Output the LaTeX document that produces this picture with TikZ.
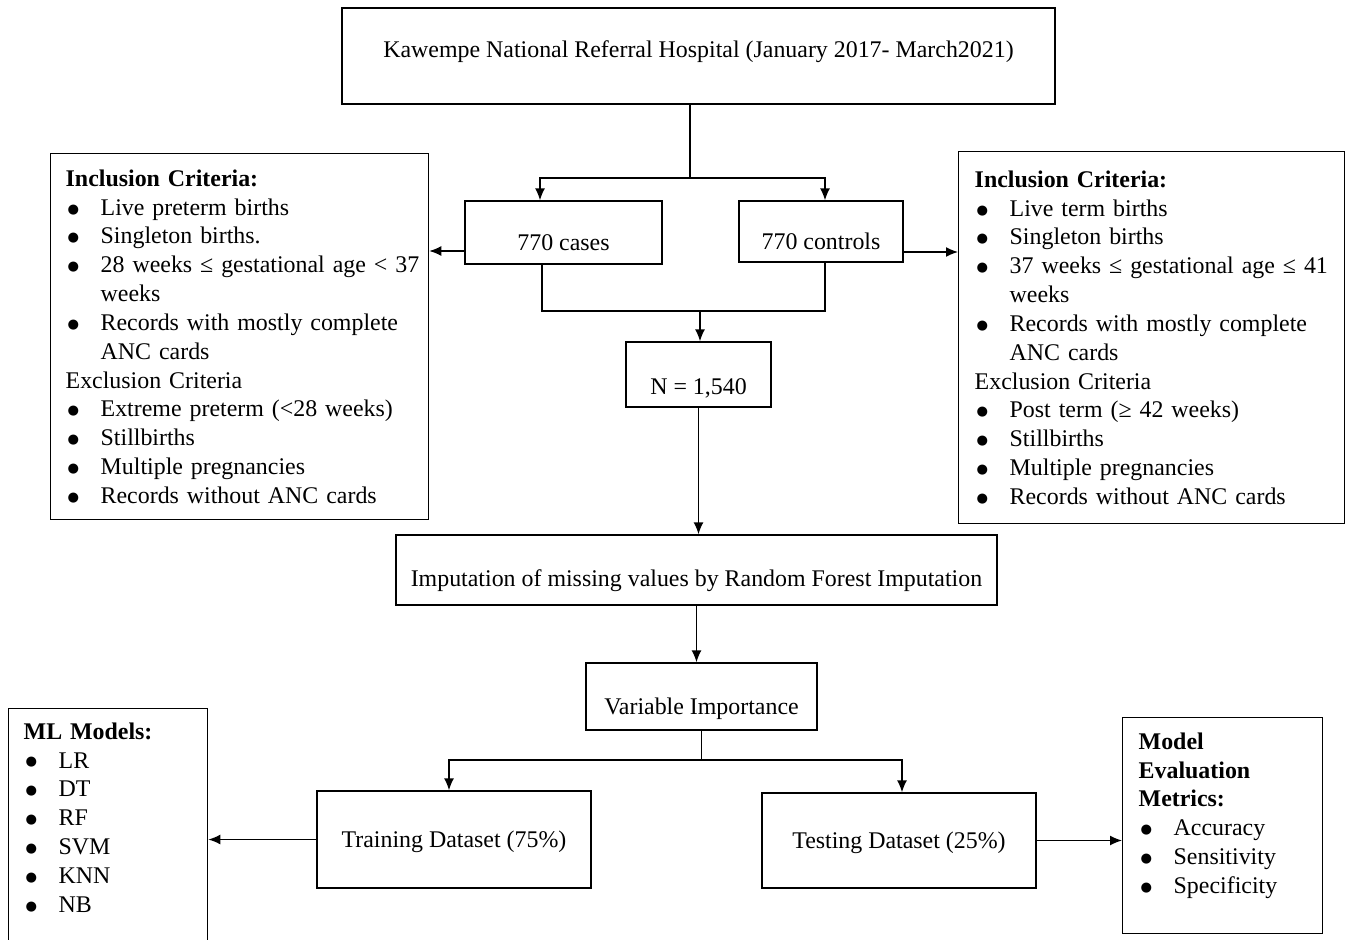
\documentclass[tikz,border=0pt]{standalone}
\usepackage{fontspec}
\setmainfont{Liberation Serif}
\newfontfamily\dotfont{DejaVu Sans}
\usetikzlibrary{arrows.meta,positioning,calc}
\newcommand{\mainsize}{\fontsize{13.6pt}{16.4pt}\selectfont}
\newcommand{\crhead}[1]{\par\noindent #1}
\newcommand{\critem}[1]{\par\noindent\hangindent=0.7cm\hangafter=1%
  \makebox[0.7cm][l]{\hspace{0.04cm}\raisebox{1.2pt}{\dotfont\fontsize{7.5pt}{8pt}\selectfont ●}}#1}

\begin{document}
\begin{tikzpicture}[x=0.02cm,y=-0.02cm,line width=0.8pt]
    \tikzset{flowbox/.style={draw,align=center,inner sep=0pt,font=\mainsize,
      text height=21pt,text depth=0pt},
      listbox/.style={draw,align=left,anchor=north west,font=\mainsize,inner ysep=0.2cm},
      flow/.style={-{Latex[length=2.4mm,width=2mm]}}}
    \useasboundingbox (0,0) rectangle (1346,940);
    \node[flowbox,minimum width=14.26cm,minimum height=1.92cm,text height=9pt,text depth=6.8pt] (hosp) at (698.5,56)
      {Kawempe National Referral Hospital (January 2017- March2021)};
    \node[flowbox,minimum width=3.94cm,minimum height=1.26cm] (cases) at (563.5,232.5) {770 cases};
    \node[flowbox,minimum width=3.28cm,minimum height=1.22cm] (controls) at (821,231.5) {770 controls};
    \node[flowbox,minimum width=2.9cm,minimum height=1.3cm,text height=23pt] (total) at (698.5,374.5) {N = 1,540};
    \node[flowbox,minimum width=12.02cm,minimum height=1.4cm,text height=19pt] (imput) at (696.5,570)
      {Imputation of missing values by Random Forest Imputation};
    \node[flowbox,minimum width=4.62cm,minimum height=1.34cm] (varimp) at (701.5,696.5) {Variable Importance};
    \node[flowbox,minimum width=5.48cm,minimum height=1.94cm,text height=9pt] (train) at (454,839.5) {Training Dataset (75\%)};
    \node[flowbox,minimum width=5.48cm,minimum height=1.9cm,text height=9pt] (test) at (899,840.5) {Testing Dataset (25\%)};
    \node[listbox,text width=6.96cm,inner xsep=0.3cm,minimum height=7.32cm] (inclcases) at (50,153)
      {\textbf{Inclusion Criteria:}
       \critem{Live preterm births}
       \critem{Singleton births.}
       \critem{\mbox{28 weeks ≤ gestational age < 37}\newline weeks}
       \critem{Records with mostly complete\newline ANC cards}
       \crhead{Exclusion Criteria}
       \critem{Extreme preterm (<28 weeks)}
       \critem{Stillbirths}
       \critem{Multiple pregnancies}
       \critem{Records without ANC cards}};
    \node[listbox,text width=7.08cm,inner xsep=0.32cm,minimum height=7.44cm] (inclctrls) at (958,151)
      {\textbf{Inclusion Criteria:}
       \critem{Live term births}
       \critem{Singleton births}
       \critem{\mbox{37 weeks ≤ gestational age ≤ 41}\newline weeks}
       \critem{Records with mostly complete\newline ANC cards}
       \crhead{Exclusion Criteria}
       \critem{Post term (≥ 42 weeks)}
       \critem{Stillbirths}
       \critem{Multiple pregnancies}
       \critem{Records without ANC cards}};
    \node[listbox,text width=3.38cm,inner xsep=0.3cm,inner ysep=0.28cm] (models) at (8,708)
      {\textbf{ML Models:}
       \critem{LR}
       \critem{DT}
       \critem{RF}
       \critem{SVM}
       \critem{KNN}
       \critem{NB\rule[-1cm]{0pt}{0pt}}};
    \node[listbox,text width=3.36cm,inner xsep=0.32cm,inner ysep=0.3cm] (metrics) at (1122,717)
      {\textbf{Model\newline Evaluation\newline Metrics:}
       \critem{Accuracy}
       \critem{Sensitivity}
       \critem{Specificity\rule[-0.5cm]{0pt}{0pt}}};
    \coordinate (topsplit) at (690,178);
    \draw (hosp.south -| topsplit) -- (topsplit);
    \draw[flow] (topsplit) -| ([xshift=-0.47cm]cases.north);
    \draw[flow] (topsplit) -| ([xshift=0.08cm]controls.north);
    \coordinate (casesout) at ([yshift=-0.37cm]cases.west);
    \draw[flow] (casesout) -- (casesout -| inclcases.east);
    \coordinate (ctrlout) at ([yshift=-0.41cm]controls.east);
    \draw[flow] (ctrlout) -- (ctrlout -| inclctrls.west);
    \coordinate (merge) at (700,311);
    \draw ([xshift=-0.43cm]cases.south) |- (merge) -| ([xshift=0.08cm]controls.south);
    \draw[flow] (merge) -- (merge |- total.north);
    \draw[flow] (total.south) -- (total.south |- imput.north);
    \draw[flow] (imput.south) -- (imput.south |- varimp.north);
    \coordinate (splitdata) at (701,760);
    \draw (varimp.south) -- (varimp.south |- splitdata);
    \draw[flow] (varimp.south |- splitdata) -| ([xshift=-0.1cm]train.north);
    \draw[flow] (varimp.south |- splitdata) -| ([xshift=0.06cm]test.north);
    \draw[flow] (train.west) -- (train.west -| models.east);
    \draw[flow] (test.east) -- (test.east -| metrics.west);
  \end{tikzpicture}
\end{document}
